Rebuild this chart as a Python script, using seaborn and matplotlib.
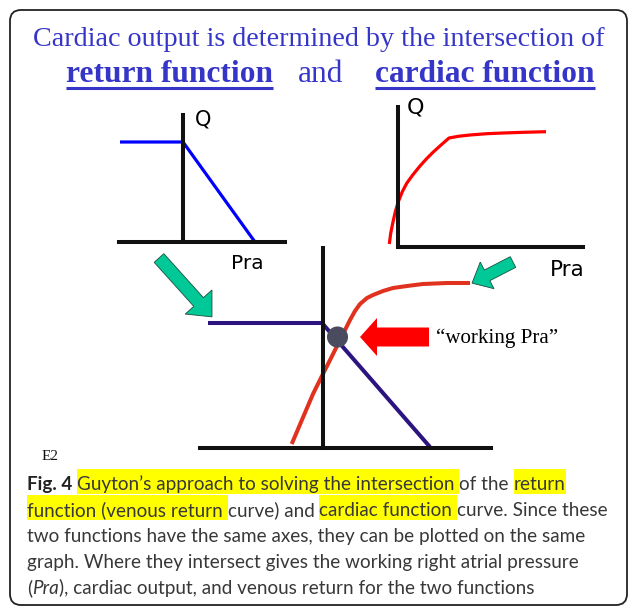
import matplotlib
matplotlib.use("Agg")
import matplotlib.pyplot as plt
import seaborn as sns
from matplotlib.patches import FancyBboxPatch, FancyArrow, Rectangle

# ---- sketch data (Pra on x, Q on y; axes cross at the origin) ----
# return (venous return) function, top-left panel
ret_pra = [-6.3, 0.0, 7.2]
ret_q = [10.0, 10.0, 0.0]

# cardiac function, top-right panel
card_pra = [-0.87, -0.73, -0.53, -0.27, 0.03, 0.43, 0.87, 1.47, 2.2, 2.87, 3.53,
            4.27, 5.1, 6.03, 7.2, 8.87, 10.53, 12.53, 14.8]
card_q = [0.3, 1.37, 2.37, 3.53, 4.53, 5.53, 6.37, 7.2, 8.1, 8.84, 9.5,
          10.17, 10.9, 11.07, 11.2, 11.33, 11.4, 11.47, 11.53]

# both functions on shared axes, bottom panel
vr_pra = [-11.5, -0.1, 10.7]
vr_q = [12.5, 12.5, 0.1]
cf_pra = [-3.13, -1.97, -0.97, 0.03, 0.87, 1.7, 2.7, 3.2, 3.7, 4.4, 5.0, 6.0,
          7.0, 8.4, 10.0, 12.4, 14.7]
cf_q = [0.4, 3.13, 5.47, 7.47, 9.13, 10.8, 12.8, 13.7, 14.4, 15.0, 15.3, 15.7,
        16.0, 16.2, 16.4, 16.5, 16.5]
working_pra = [1.45]
working_q = [11.1]

# ---- text ----
title_line1 = "Cardiac output is determined by the intersection of"
title_left, title_mid, title_right = "return function", "and", "cardiac function"
axis_q, axis_pra = "Q", "Pra"
working_label = "\u201cworking Pra\u201d"
panel_tag = "E2"
caption_lines = [
    [("Fig. 4 ", "b"), ("Guyton\u2019s approach to solving the intersection ", "h"),
     ("of the ", ""), ("return", "h")],
    [("function (venous return ", "h"), ("curve) and ", ""),
     ("cardiac function ", "h"), ("curve. Since these", "")],
    [("two functions have the same axes, they can be plotted on the same", "")],
    [("graph. Where they intersect gives the working right atrial pressure", "")],
    [("(", ""), ("Pra", "i"), ("), cardiac output, and venous return for the two functions", "")],
]

W, H = 629, 607
sns.set_style("white")
fig = plt.figure(figsize=(W / 100, H / 100), dpi=100)
fig.patch.set_facecolor("white")

# overlay in pixel coordinates for frame, captions and pointers
ov = fig.add_axes([0, 0, 1, 1])
ov.set_xlim(0, W)
ov.set_ylim(H, 0)
ov.axis("off")
renderer = fig.canvas.get_renderer()

ov.add_patch(FancyBboxPatch((10, 10), 617, 595, boxstyle="round,pad=0,rounding_size=11",
                            fc="none", ec="#222222", lw=1.3, zorder=1))


def seg_width(s, **kw):
    t1 = ov.text(0, 0, "x" + s + "x", **kw)
    t2 = ov.text(0, 0, "xx", **kw)
    w = t1.get_window_extent(renderer).width - t2.get_window_extent(renderer).width
    t1.remove()
    t2.remove()
    return w


def fitted_size(s, target, **kw):
    return 10 * target / seg_width(s, fontsize=10, **kw)


# ---- title ----
TITLE_C = "#3535c8"
serif = "Liberation Serif"
s1 = fitted_size(title_line1, 572, family=serif)
ov.text(33, 46, title_line1, fontsize=s1, family=serif, color=TITLE_C, ha="left", va="baseline")
s2 = fitted_size(title_left, 207, family=serif, weight="bold")
for txt, x0, bold in [(title_left, 66, True), (title_mid, 298, False), (title_right, 375, True)]:
    kw = dict(fontsize=s2, family=serif, color=TITLE_C, weight="bold" if bold else "normal")
    ov.text(x0, 82, txt, ha="left", va="baseline", **kw)
    if bold:
        w = seg_width(txt, **kw)
        ov.plot([x0, x0 + w], [88, 88], color=TITLE_C, lw=2.2, solid_capstyle="butt")


# ---- sketch axes ----
def sketch_axes(origin, box, xspan, ytop, unit=10):
    ox, oy = origin
    x0, y0, x1, y1 = box
    ax = fig.add_axes([x0 / W, 1 - y1 / H, (x1 - x0) / W, (y1 - y0) / H])
    ax.set_xlim((x0 - ox) / unit, (x1 - ox) / unit)
    ax.set_ylim((oy - y1) / unit, (oy - y0) / unit)
    ax.patch.set_alpha(0)
    for s in ("top", "right"):
        ax.spines[s].set_visible(False)
    for s in ("left", "bottom"):
        ax.spines[s].set_position(("data", 0))
        ax.spines[s].set_linewidth(2.9)
        ax.spines[s].set_color("#111111")
    ax.spines["left"].set_bounds(0, ytop)
    ax.spines["bottom"].set_bounds(*xspan)
    ax.set_xticks([])
    ax.set_yticks([])
    ax.set_xlabel("")
    ax.set_ylabel("")
    return ax


ax1 = sketch_axes((183, 242), (110, 95, 295, 255), (-6.4, 10.2), 12.7)
sns.lineplot(x=ret_pra, y=ret_q, ax=ax1, color="#0000ff", lw=2.3, sort=False, estimator=None)

ax2 = sketch_axes((398, 247), (380, 95, 595, 255), (0, 18.5), 14.0)
sns.lineplot(x=card_pra, y=card_q, ax=ax2, color="#ff0000", lw=2.3, sort=False, estimator=None)

ax3 = sketch_axes((323, 448), (190, 240, 500, 455), (-12.3, 16.8), 20.0)
sns.lineplot(x=vr_pra, y=vr_q, ax=ax3, color="#2c1480", lw=2.9, sort=False, estimator=None)
sns.lineplot(x=cf_pra, y=cf_q, ax=ax3, color="#e0321e", lw=2.9, sort=False, estimator=None)
sns.scatterplot(x=working_pra, y=working_q, ax=ax3, color="#4b4b60", s=230, edgecolor="none", zorder=5)
for a in (ax1, ax2, ax3):
    for ln in a.lines:
        ln.set_solid_capstyle("butt")
        ln.set_solid_joinstyle("round")
    leg = a.get_legend()
    if leg:
        leg.remove()

# axis letters
lab_font = "DejaVu Sans"
for txt, xc, yb, size in [(axis_q, 203, 126, 15), (axis_pra, 247, 269, 14.5),
                          (axis_q, 416, 113, 16), (axis_pra, 567, 276, 15.5)]:
    ov.text(xc, yb, txt, fontsize=size, family=lab_font, color="black", ha="center", va="baseline")

# pointers
ov.add_patch(FancyArrow(159, 258, 53 - 20 * 0.67, 59 - 20 * 0.75, width=13, head_width=36,
                        head_length=20, length_includes_head=False, fc="#00c896", ec="#1d4f3f", lw=0.6))
ov.add_patch(FancyArrow(513, 262, -41 + 17 * 0.89, 21 - 17 * 0.45, width=12, head_width=30,
                        head_length=17, length_includes_head=False, fc="#00c896", ec="#1d4f3f", lw=0.6))
ov.add_patch(FancyArrow(429, 337, -69, 0, width=19, head_width=38, head_length=17,
                        length_includes_head=True, fc="#ff0000", ec="none"))

ws = fitted_size(working_label, 122, family=serif)
ov.text(436, 343, working_label, fontsize=ws, family=serif, color="black", ha="left", va="baseline")
es = fitted_size(panel_tag, 17, family=serif)
ov.text(42, 460, panel_tag, fontsize=es, family=serif, color="#111111", ha="left", va="baseline")

# ---- caption ----
CAP_FONT = "Lato"
CAP_C = "#383838"
styles = {"": {}, "h": {}, "b": {"weight": "bold", "color": "#222222"}, "i": {"style": "italic"}}


def run_kw(code, size):
    kw = dict(fontsize=size, family=CAP_FONT, color=CAP_C)
    kw.update(styles[code])
    return kw


def line_width(runs, size):
    return sum(seg_width(t, **run_kw(c, size)) for t, c in runs)


cap_size = 10 * 506 / line_width(caption_lines[4], 10)
baselines = [490, 516, 542, 568, 594]
for runs, yb in zip(caption_lines, baselines):
    cx = 27
    for txt, code in runs:
        kw = run_kw(code, cap_size)
        w = seg_width(txt, **kw)
        if code == "h":
            ov.add_patch(Rectangle((cx, yb - 21), w, 25, fc="#ffff00", ec="none", zorder=0.5))
        ov.text(cx, yb, txt, ha="left", va="baseline", zorder=2, **kw)
        cx += w

fig.savefig("out.png", dpi=100)
